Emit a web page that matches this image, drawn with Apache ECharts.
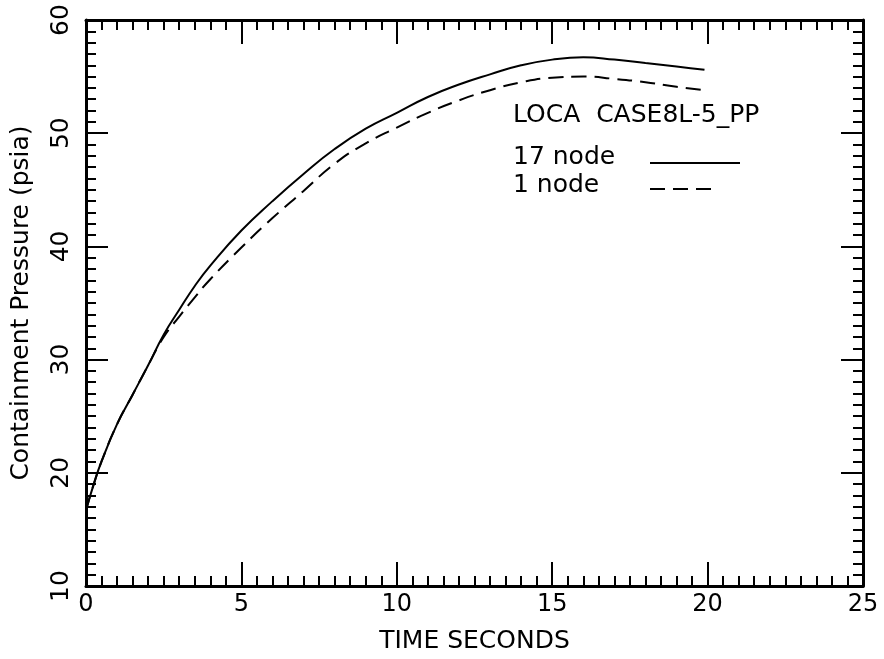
<!DOCTYPE html>
<html>
<head>
<meta charset="utf-8">
<script src="https://cdn.jsdelivr.net/npm/echarts@6/dist/echarts.min.js"></script>
<style>
  html, body { margin: 0; padding: 0; background: #fff; }
  #chart { width: 884px; height: 659px; }
</style>
</head>
<body>
<div id="chart"></div>
<script>
var time = [0, 0.25, 0.5, 1, 1.5, 2, 2.5, 3, 3.5, 4, 5, 6, 7, 8, 9, 10, 11, 12, 13, 14, 15, 16, 17, 18, 19, 19.9];
var node17 = [16.7, 19.0, 21.0, 24.3, 26.9, 29.5, 32.2, 34.4, 36.5, 38.3, 41.4, 44.0, 46.4, 48.6, 50.4, 51.8, 53.2, 54.3, 55.2, 56.0, 56.5, 56.7, 56.5, 56.2, 55.9, 55.6];
var node1 = [16.7, 19.0, 21.0, 24.3, 26.9, 29.5, 32.0, 33.8, 35.5, 37.1, 39.9, 42.5, 44.9, 47.3, 49.1, 50.5, 51.8, 52.9, 53.8, 54.5, 54.9, 55.0, 54.8, 54.5, 54.1, 53.8];
var caseTitle = 'LOCA  CASE8L-5_PP';
var legendNames = ['17 node', '1 node'];

var chart = echarts.init(document.getElementById('chart'));
var font = 'DejaVu Sans';

function pairs(ys) {
  return time.map(function(t, i) { return [t, ys[i]]; });
}

function xAxisOpt(pos, labels) {
  return {
    type: 'value', position: pos, min: 0, max: 25, interval: 5,
    name: labels ? 'TIME SECONDS' : '', nameLocation: 'middle', nameGap: 43,
    nameTextStyle: { color: '#000', fontFamily: font, fontSize: 25 },
    axisLine: { show: true, onZero: false, lineStyle: { color: '#000', width: 3 } },
    axisTick: { show: true, inside: true, length: 24, lineStyle: { color: '#000', width: 2 } },
    minorTick: { show: true, splitNumber: 10, length: 10, lineStyle: { color: '#000', width: 2 } },
    axisLabel: { show: labels, color: '#000', fontFamily: font, fontSize: 24, margin: 7 },
    splitLine: { show: false }
  };
}

function yAxisOpt(pos, labels) {
  return {
    type: 'value', position: pos, min: 10, max: 60, interval: 10,
    name: labels ? 'Containment Pressure (psia)' : '', nameLocation: 'middle', nameGap: 52,
    nameRotate: 90,
    nameTextStyle: { color: '#000', fontFamily: font, fontSize: 25 },
    axisLine: { show: true, onZero: false, lineStyle: { color: '#000', width: 3 } },
    axisTick: { show: true, inside: true, length: 22, lineStyle: { color: '#000', width: 2 } },
    minorTick: { show: true, splitNumber: 10, length: 10, lineStyle: { color: '#000', width: 2 } },
    axisLabel: { show: labels, rotate: 90, color: '#000', fontFamily: font, fontSize: 25, margin: 12 },
    splitLine: { show: false }
  };
}

chart.setOption({
  backgroundColor: '#fff',
  animation: false,
  grid: { left: 86, right: 21, top: 20, bottom: 72, show: false },
  xAxis: [xAxisOpt('bottom', true), xAxisOpt('top', false)],
  yAxis: [yAxisOpt('left', true), yAxisOpt('right', false)],
  series: [
    {
      name: legendNames[0], type: 'line', smooth: true, symbol: 'none',
      data: pairs(node17),
      lineStyle: { color: '#000', width: 2 }
    },
    {
      name: legendNames[1], type: 'line', smooth: true, symbol: 'none',
      data: pairs(node1),
      lineStyle: { color: '#000', width: 2, type: [15, 8] }
    }
  ],
  graphic: [
    { type: 'text', left: 513, top: 103,
      style: { text: caseTitle, fontFamily: font, fontSize: 25, fill: '#000' } },
    { type: 'text', left: 513, top: 145,
      style: { text: legendNames[0], fontFamily: font, fontSize: 25, fill: '#000' } },
    { type: 'text', left: 513, top: 173,
      style: { text: legendNames[1], fontFamily: font, fontSize: 25, fill: '#000' } },
    { type: 'line', shape: { x1: 650, y1: 163, x2: 740, y2: 163 },
      style: { stroke: '#000', lineWidth: 2 } },
    { type: 'line', shape: { x1: 650, y1: 189, x2: 716, y2: 189 },
      style: { stroke: '#000', lineWidth: 2, lineDash: [15, 8] } }
  ]
});
</script>
</body>
</html>
